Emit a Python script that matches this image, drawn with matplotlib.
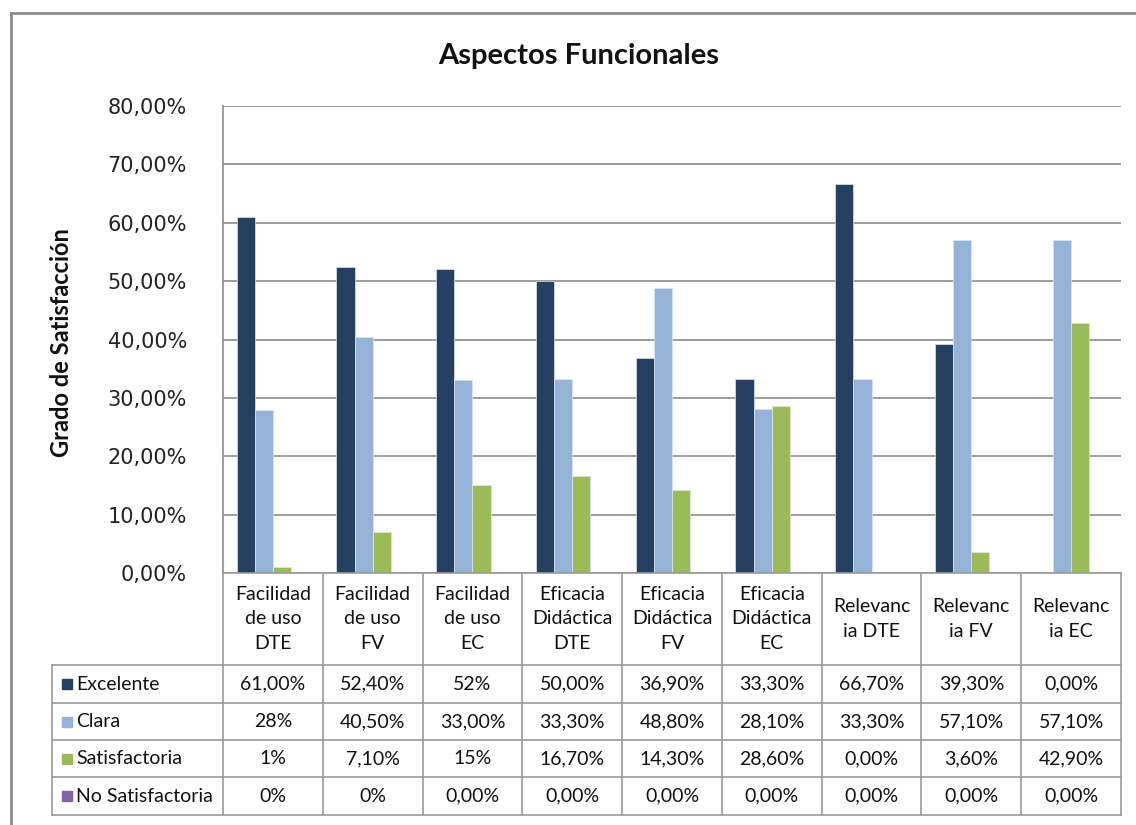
import numpy as np
import matplotlib
matplotlib.use('Agg')
import matplotlib.pyplot as plt
from matplotlib.lines import Line2D
from matplotlib.patches import Rectangle

# categorias y series (en %)
categorias = ['Facilidad\nde uso\nDTE', 'Facilidad\nde uso\nFV', 'Facilidad\nde uso\nEC',
              'Eficacia\nDidáctica\nDTE', 'Eficacia\nDidáctica\nFV', 'Eficacia\nDidáctica\nEC',
              'Relevanc\nia DTE', 'Relevanc\nia FV', 'Relevanc\nia EC']
series = ['Excelente', 'Clara', 'Satisfactoria', 'No Satisfactoria']
excelente = [61.0, 52.4, 52.0, 50.0, 36.9, 33.3, 66.7, 39.3, 0.0]
clara = [28.0, 40.5, 33.0, 33.3, 48.8, 28.1, 33.3, 57.1, 57.1]
satisfactoria = [1.0, 7.1, 15.0, 16.7, 14.3, 28.6, 0.0, 3.6, 42.9]
no_satisfactoria = [0.0, 0.0, 0.0, 0.0, 0.0, 0.0, 0.0, 0.0, 0.0]

# textos de la tabla tal como aparecen
txt_excelente = ['61,00%', '52,40%', '52%', '50,00%', '36,90%', '33,30%', '66,70%', '39,30%', '0,00%']
txt_clara = ['28%', '40,50%', '33,00%', '33,30%', '48,80%', '28,10%', '33,30%', '57,10%', '57,10%']
txt_satisf = ['1%', '7,10%', '15%', '16,70%', '14,30%', '28,60%', '0,00%', '3,60%', '42,90%']
txt_no_satisf = ['0%', '0%', '0,00%', '0,00%', '0,00%', '0,00%', '0,00%', '0,00%', '0,00%']

colores = ['#264061', '#95B3D7', '#9BBB59', '#8064A2']
valores = [excelente, clara, satisfactoria, no_satisfactoria]
textos = [txt_excelente, txt_clara, txt_satisf, txt_no_satisf]

plt.rcParams['font.family'] = ['Lato', 'DejaVu Sans']
plt.rcParams['text.color'] = '#111111'

W, H = 1136, 825
fig = plt.figure(figsize=(W / 100, H / 100), dpi=100)

def fx(px):
    return px / W

def fy(py):
    return 1 - py / H

# area de grafico
x0, x1, ytop, ybot = 223, 1121, 106, 573
ax = fig.add_axes([fx(x0), fy(ybot), fx(x1) - fx(x0), fy(ytop) - fy(ybot)])

n = len(categorias)
x = np.arange(n)
w = 1 / 5.5
for i, (vals, col) in enumerate(zip(valores, colores)):
    ax.bar(x - 0.5 + 0.75 * w + (i + 0.5) * w, vals, width=w, color=col,
           edgecolor='#dce6f2', linewidth=0.5, zorder=3)

ax.set_xlim(-0.5, n - 0.5)
ax.set_ylim(0, 80)
ax.set_yticks(np.arange(0, 81, 10))
ax.set_yticklabels([f'{v:.2f}%'.replace('.', ',') for v in np.arange(0, 81, 10)],
                   fontsize=15, family='DejaVu Sans', color='#222222')
ax.set_xticks([])
ax.tick_params(axis='y', length=0, pad=26)
ax.yaxis.grid(True, color='#8c8c8c', linewidth=1.2, zorder=0)
for s in ['top', 'right', 'bottom']:
    ax.spines[s].set_visible(False)
ax.spines['left'].set_color('#8c8c8c')
ax.spines['left'].set_linewidth(1.2)

fig.text(fx(62), fy(343), 'Grado de Satisfacción', fontsize=17, fontweight='bold',
         rotation=90, ha='center', va='center')
fig.text(fx(579), fy(56), 'Aspectos Funcionales', fontsize=21, fontweight='bold',
         ha='center', va='center')

# tabla de datos
col_w = (x1 - x0) / n
bordes = [x0 + i * col_w for i in range(n + 1)]
filas = [573, 665, 703, 740, 777, 815]
leg_x = 52
gris = '#9a9a9a'

def linea(xa, xb, ya, yb):
    fig.add_artist(Line2D([fx(xa), fx(xb)], [fy(ya), fy(yb)], color=gris, linewidth=1.2))

linea(x0, x1, 573, 573)
for yy in filas[1:]:
    linea(leg_x, x1, yy, yy)
for xx in bordes:
    linea(xx, xx, 573, 815)
linea(leg_x, leg_x, 665, 815)

for i, cat in enumerate(categorias):
    cx = (bordes[i] + bordes[i + 1]) / 2
    fig.text(fx(cx), fy(619), cat, fontsize=14, ha='center', va='center', linespacing=1.55)

for r, (nombre, col, tx) in enumerate(zip(series, colores, textos)):
    cy = (filas[r + 1] + filas[r + 2]) / 2
    fig.add_artist(Rectangle((fx(leg_x + 10), fy(cy + 5)), 10 / W, 10 / H, color=col,
                             transform=fig.transFigure))
    fig.text(fx(leg_x + 24), fy(cy), nombre, fontsize=14, ha='left', va='center')
    for i, t in enumerate(tx):
        cx = (bordes[i] + bordes[i + 1]) / 2
        fig.text(fx(cx), fy(cy), t, fontsize=14, ha='center', va='center')

# marco exterior
fig.add_artist(Line2D([fx(11), fx(11)], [fy(825), fy(13)], color='#8c8c8c', linewidth=2))
fig.add_artist(Line2D([fx(11), fx(1136)], [fy(13), fy(13)], color='#8c8c8c', linewidth=2))

fig.savefig('out.png', dpi=100)
